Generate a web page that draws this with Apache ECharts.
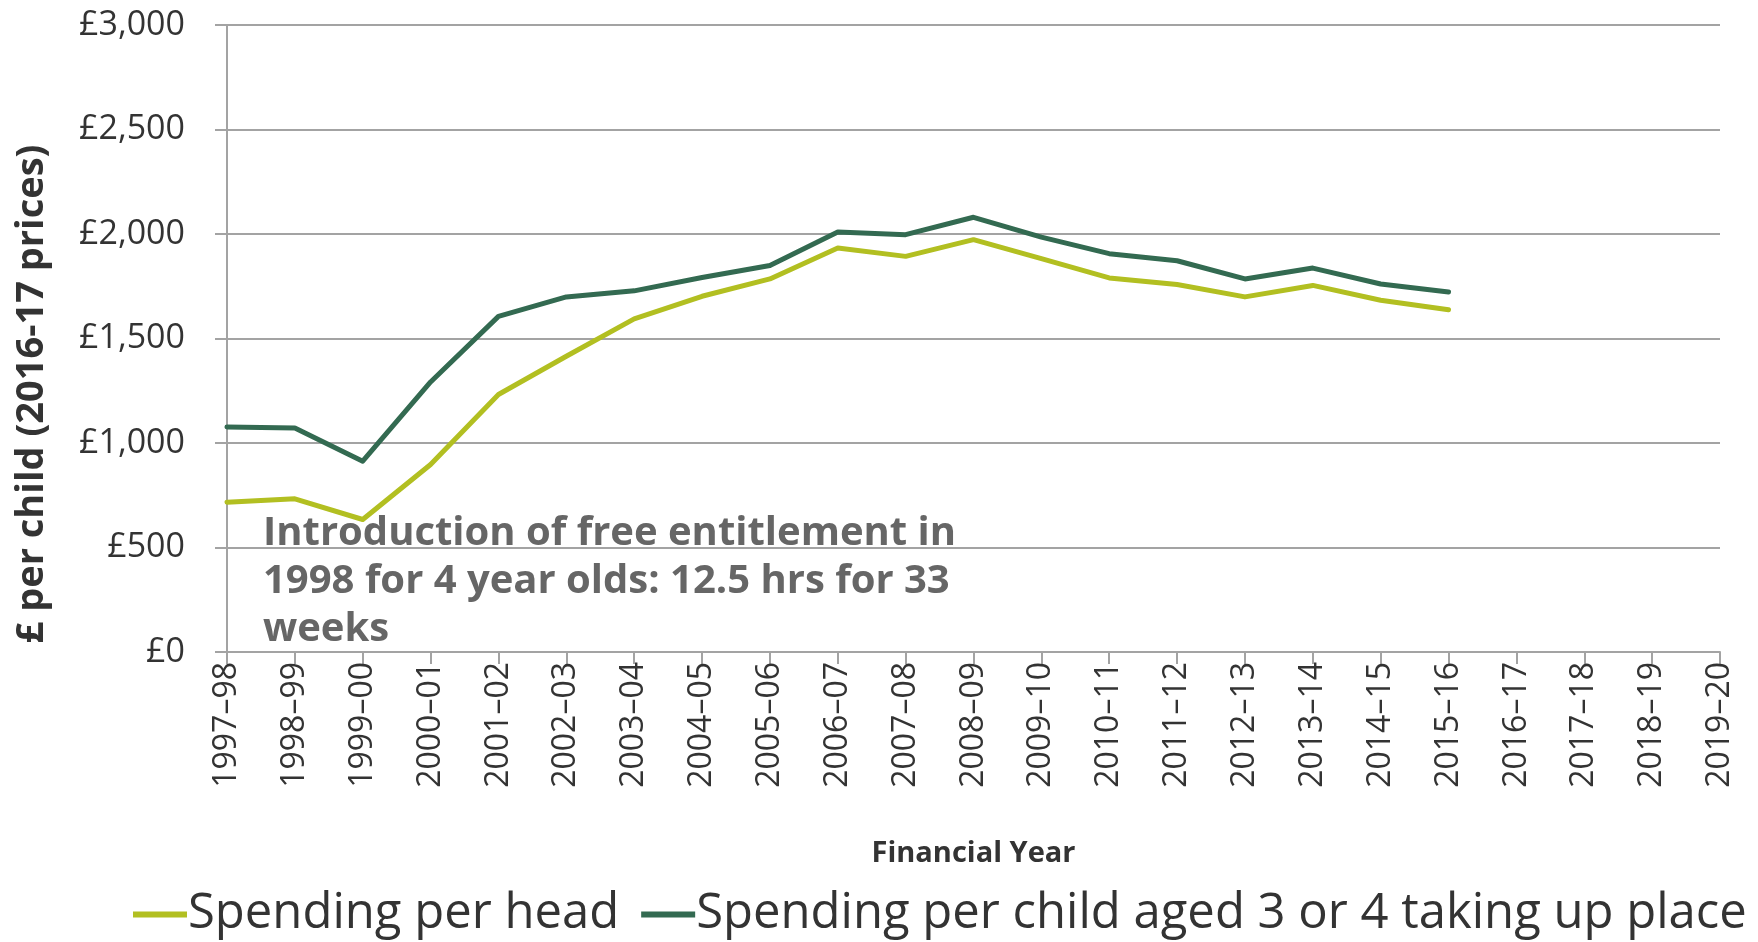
<!DOCTYPE html>
<html>
<head>
<meta charset="utf-8">
<title>Early years spending per child</title>
<script src="https://cdn.jsdelivr.net/npm/echarts@6/dist/echarts.min.js"></script>
<style>
  html, body { margin: 0; padding: 0; background: #ffffff; }
  #chart { width: 1758px; height: 942px; }
</style>
</head>
<body>
<div id="chart"></div>
<script>
// Financial years on the horizontal axis
const years = [
  '1997–98','1998–99','1999–00','2000–01','2001–02','2002–03','2003–04',
  '2004–05','2005–06','2006–07','2007–08','2008–09','2009–10','2010–11',
  '2011–12','2012–13','2013–14','2014–15','2015–16','2016–17','2017–18',
  '2018–19','2019–20'
];

// Spending per head, £ in 2016-17 prices
const spendingPerHead = [
  717, 733, 634, 897, 1232, 1415, 1594, 1702, 1785, 1933, 1893, 1973,
  1882, 1790, 1758, 1699, 1754, 1683, 1638, null, null, null, null
];

// Spending per child aged 3 or 4 taking up a place, £ in 2016-17 prices
const spendingPerPlace = [
  1077, 1072, 913, 1292, 1606, 1699, 1728, 1792, 1849, 2010, 1997, 2080,
  1985, 1906, 1872, 1785, 1837, 1761, 1723, null, null, null, null
];

const yTicks = { min: 0, max: 3000, interval: 500 };

const seriesNames = [
  'Spending per head',
  'Spending per child aged 3 or 4 taking up place'
];

const yTitle = '£ per child (2016-17 prices)';

const noteLines = [
  'Introduction of free entitlement in',
  '1998 for 4 year olds: 12.5 hrs for 33',
  'weeks'
];

const FONT = '"Open Sans", "Noto Sans", sans-serif';
const LIGHT = '#b2bf21';
const DARK = '#336a51';
const GRID = '#a3a3a3';

const chart = echarts.init(document.getElementById('chart'), null, { renderer: 'canvas' });

const fmtPounds = v => '£' + v.toLocaleString('en-GB');

chart.setOption({
  animation: false,
  textStyle: { fontFamily: FONT },
  grid: { left: 227, right: 38, top: 25, bottom: 290, containLabel: false },
  legend: {
    left: 128,
    top: 885,
    itemWidth: 54,
    itemHeight: 6,
    itemGap: 22,
    icon: 'rect',
    textStyle: { fontFamily: FONT, fontSize: 49, color: '#333333', padding: [0, 0, 0, -4] },
    data: seriesNames
  },
  xAxis: {
    type: 'category',
    data: years,
    boundaryGap: false,
    name: 'Financial Year',
    nameLocation: 'middle',
    nameGap: 187,
    nameTextStyle: { fontFamily: FONT, fontSize: 29, fontWeight: 'bold', color: '#333333' },
    axisLine: { show: true, lineStyle: { color: GRID, width: 2 } },
    axisTick: { show: true, alignWithLabel: true, length: 12, lineStyle: { color: GRID, width: 2 } },
    axisLabel: {
      interval: 0,
      rotate: 90,
      margin: 10,
      fontFamily: FONT,
      fontSize: 32,
      color: '#333333'
    },
    splitLine: { show: false }
  },
  yAxis: {
    type: 'value',
    min: yTicks.min,
    max: yTicks.max,
    interval: yTicks.interval,
    axisLine: { show: true, lineStyle: { color: GRID, width: 2 } },
    axisTick: { show: true, length: 12, lineStyle: { color: GRID, width: 2 } },
    axisLabel: {
      margin: 42,
      fontFamily: FONT,
      fontSize: 34,
      color: '#333333',
      formatter: fmtPounds
    },
    splitLine: { show: true, lineStyle: { color: GRID, width: 2 } }
  },
  series: [
    {
      name: seriesNames[0],
      type: 'line',
      data: spendingPerHead,
      symbol: 'none',
      showSymbol: false,
      connectNulls: false,
      lineStyle: { color: LIGHT, width: 5, cap: 'round', join: 'round' },
      itemStyle: { color: LIGHT },
      z: 3
    },
    {
      name: seriesNames[1],
      type: 'line',
      data: spendingPerPlace,
      symbol: 'none',
      showSymbol: false,
      connectNulls: false,
      lineStyle: { color: DARK, width: 5, cap: 'round', join: 'round' },
      itemStyle: { color: DARK },
      z: 4
    }
  ],
  graphic: [
    {
      // vertical axis title
      type: 'text',
      x: 32,
      y: 394,
      rotation: Math.PI / 2,
      z: 10,
      style: {
        text: yTitle,
        fontFamily: FONT,
        fontSize: 38,
        fontWeight: 'bold',
        fill: '#333333',
        align: 'center',
        verticalAlign: 'middle'
      }
    },
    {
      // annotation on the free-entitlement introduction
      type: 'text',
      left: 263,
      top: 510,
      z: 10,
      style: {
        text: noteLines.join('\n'),
        fontFamily: FONT,
        fontSize: 40,
        fontWeight: 'bold',
        lineHeight: 48,
        fill: '#666666'
      }
    }
  ]
});
</script>
</body>
</html>
